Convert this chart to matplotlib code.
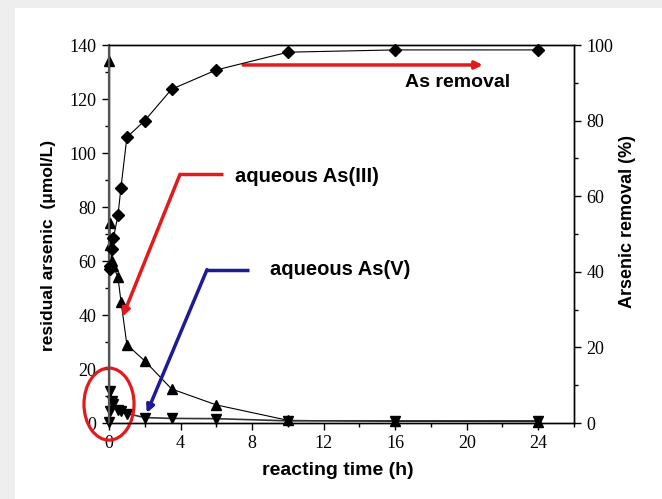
import matplotlib.pyplot as plt
from matplotlib.patches import Ellipse, Rectangle
from matplotlib.ticker import MultipleLocator

# reacting time (h) and residual arsenic (umol/L)
time_h = [0, 0.03, 0.083, 0.17, 0.25, 0.5, 0.67, 1, 2, 3.5, 6, 10, 16, 24]
as3 = [134, 74, 66, 60, 58, 54, 45, 29, 23, 12.6, 6.7, 1.0, 0.6, 0.5]
as5 = [0.5, 4.5, 12, 8, 7, 5, 4.5, 3.5, 2, 1.7, 1.6, 0.8, 0.8, 0.8]

# arsenic removal (%)
time_rm = [0.03, 0.083, 0.17, 0.25, 0.5, 0.67, 1, 2, 3.5, 6, 10, 16, 24]
removal = [40.8, 41.6, 45.9, 49, 54.9, 62.3, 75.6, 80, 88.3, 93.4, 98.1, 98.7, 98.7]

RED = '#e31a1c'
BLUE = '#1c1c96'
serif = 'Liberation Serif'
sans = 'Liberation Sans'

fig = plt.figure(figsize=(6.62, 4.99), dpi=100, facecolor='#eeeeee')
fig.patches.append(Rectangle((15 / 662, 0), 1, 1 - 8 / 499, transform=fig.transFigure,
                             facecolor='white', edgecolor='none', zorder=-10))

ax = fig.add_axes([109 / 662, 1 - 423 / 499, (574 - 109) / 662, (423 - 45) / 499])
ax2 = ax.twinx()

ax.plot(time_h, as3, color='black', lw=0.8, marker='^', ms=7, zorder=3, clip_on=False)
ax.plot(time_h, as5, color='#333333', lw=1.2, marker='v', ms=7, mfc='black', mec='black', zorder=3, clip_on=False)
ax2.plot(time_rm, removal, color='black', lw=0.8, marker='D', ms=6, zorder=3, clip_on=False)

ax.set_xlim(0, 26)
ax.set_ylim(0, 140)
ax2.set_ylim(0, 100)
ax.xaxis.set_major_locator(MultipleLocator(4))
ax.xaxis.set_minor_locator(MultipleLocator(2))
ax.yaxis.set_major_locator(MultipleLocator(20))
ax.yaxis.set_minor_locator(MultipleLocator(10))
ax2.yaxis.set_major_locator(MultipleLocator(20))
ax2.yaxis.set_minor_locator(MultipleLocator(10))

for a in (ax, ax2):
    a.tick_params(which='major', direction='out', length=5, width=1, labelsize=13, pad=4)
    a.tick_params(which='minor', direction='out', length=3, width=1)
    for lab in a.get_xticklabels() + a.get_yticklabels():
        lab.set_fontfamily(serif)
    for s in a.spines.values():
        s.set_linewidth(1)
ax2.spines['left'].set_color('#555555')
ax2.spines['left'].set_linewidth(1.6)
ax.patch.set_alpha(0)

ax.set_xlabel('reacting time (h)', fontsize=14, fontweight='bold', family=sans, va='center')
ax.set_ylabel('residual arsenic  (\u03bcmol/L)', fontsize=12.5, fontweight='bold', family=sans, va='center')
ax2.set_ylabel('Arsenic removal (%)', fontsize=13, fontweight='bold', family=sans, va='center')
ax.xaxis.set_label_coords(0.4925, -0.125)
ax.yaxis.set_label_coords(-0.13, 0.471)
ax2.yaxis.set_label_coords(1.116, 0.532)

# As removal arrow
ax.annotate('', xy=(20.9, 132.6), xytext=(7.5, 132.6),
            arrowprops=dict(arrowstyle='-|>', color=RED, lw=2.5, mutation_scale=11, shrinkA=0, shrinkB=0))
ax.text(19.5, 126, 'As removal', fontsize=14, fontweight='bold', family=sans, ha='center', va='center')

# aqueous As(III)
ax.plot([6.38, 3.97], [92.1, 92.1], color=RED, lw=2.5, solid_capstyle='butt')
ax.annotate('', xy=(0.76, 39.4), xytext=(3.97, 92.1),
            arrowprops=dict(arrowstyle='-|>', color=RED, lw=2.5, mutation_scale=11, shrinkA=0, shrinkB=0))
ax.text(7.05, 91.3, 'aqueous As(III)', fontsize=14.5, fontweight='bold', family=sans, va='center')

# aqueous As(V)
ax.plot([7.84, 5.48], [56.8, 56.8], color=BLUE, lw=2.5, solid_capstyle='butt')
ax.annotate('', xy=(2.11, 3.7), xytext=(5.48, 56.8),
            arrowprops=dict(arrowstyle='-|>', color=BLUE, lw=2.5, mutation_scale=11, shrinkA=0, shrinkB=0))
ax.text(9.0, 56.8, 'aqueous As(V)', fontsize=14.5, fontweight='bold', family=sans, va='center')

ax.add_patch(Ellipse((0.0, 7), 2.8, 26.7, fill=False, edgecolor=RED, lw=2.3, clip_on=False, zorder=5))

fig.savefig('out.png', dpi=100, facecolor=fig.get_facecolor())
